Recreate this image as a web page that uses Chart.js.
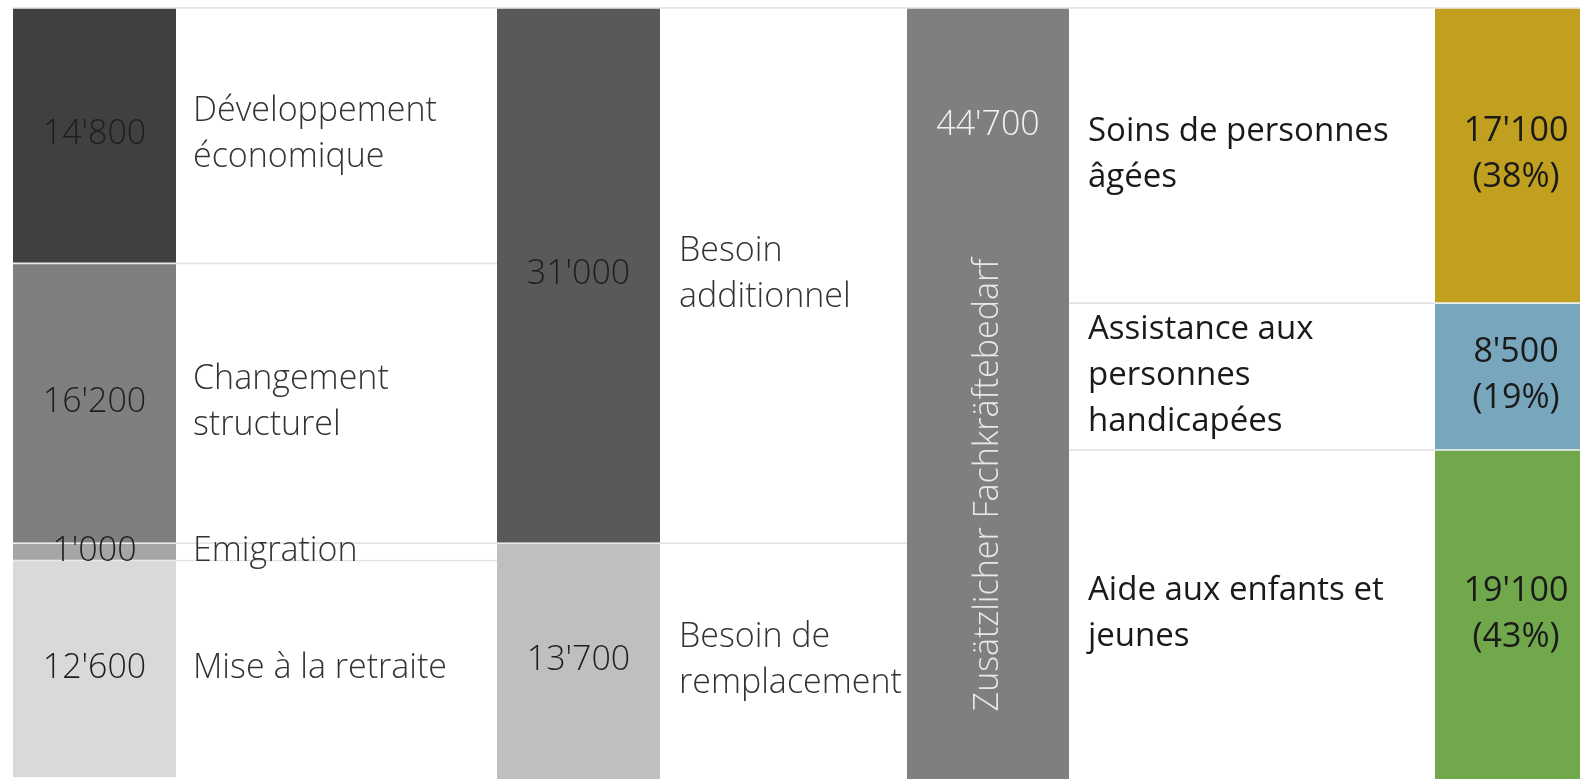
<!DOCTYPE html>
<html>
<head>
<meta charset="utf-8">
<script src="https://cdn.jsdelivr.net/npm/chart.js@4.4.1/dist/chart.umd.min.js"></script>
<style>
  html, body { margin: 0; padding: 0; background: #ffffff; overflow: hidden; }
  #wrap { width: 1600px; height: 779px; }
  canvas { display: block; }
</style>
</head>
<body>
<div id="wrap"><canvas id="c" width="1600" height="779"></canvas></div>
<script>
// ---------- DATA ----------
const slot = [''];
const causeLabels = [['Développement', 'économique'], ['Changement', 'structurel'], ['Emigration'], ['Mise à la retraite']];
const causeValues = [14800, 16200, 1000, 12600];
const needLabels = [['Besoin', 'additionnel'], ['Besoin de', 'remplacement']];
const needValues = [31000, 13700];
const totalLabel = 'Zusätzlicher Fachkräftebedarf';
const totalValues = [44700];
const domainLabels = [['Soins de personnes', 'âgées'], ['Assistance aux', 'personnes', 'handicapées'], ['Aide aux enfants et', 'jeunes']];
const domainValues = [17100, 8500, 19100];
const domainShares = ['38%', '19%', '43%'];

// ---------- STYLES ----------
const causeColors = ['#404040', '#7f7f7f', '#a6a6a6', '#d9d9d9'];
const needColors = ['#595959', '#bfbfbf'];
const totalColor = '#7f7f7f';
const domainColors = ['#c19f1f', '#78a6bd', '#71a84c'];
const columnWidths = [163, 321, 163, 247, 162, 366, 162]; // relative weights of the 7 columns
const LIGHT = '300 34px "Open Sans", "Noto Sans", sans-serif';
const NUM = '300 34px "Open Sans", "Noto Sans", sans-serif';
const REG = '400 33px "Open Sans", "Noto Sans", sans-serif';
const REGNUM = '400 34px "Open Sans", "Noto Sans", sans-serif';
const VERT = '300 34px "Open Sans", "Noto Sans", sans-serif';
const LH = 46;

const fmt = v => String(v).replace(/\B(?=(\d{3})+(?!\d))/g, "'");

const datasets = [];
function addSeg(axis, value, bg, border, texts) {
  datasets.push({
    data: [value], xAxisID: axis, yAxisID: 'y',
    backgroundColor: bg, borderColor: border,
    borderWidth: { top: 2, right: 0, bottom: 0, left: 0 },
    borderSkipped: false, barPercentage: 1, categoryPercentage: 1, grouped: false,
    texts: texts
  });
}

causeValues.forEach((v, i) => {
  addSeg('c0', v, causeColors[i], '#e9e9e9', [{ lines: [fmt(v)], font: NUM, color: '#1e1e1e' }]);
  addSeg('c1', v, '#ffffff', '#e3e3e3', [{ lines: causeLabels[i], font: LIGHT, color: '#333333', align: 'left', pad: 17 }]);
});
needValues.forEach((v, i) => {
  addSeg('c2', v, needColors[i], '#e9e9e9', [{ lines: [fmt(v)], font: NUM, color: '#1e1e1e' }]);
  addSeg('c3', v, '#ffffff', '#e3e3e3', [{ lines: needLabels[i], font: LIGHT, color: '#333333', align: 'left', pad: 19 }]);
});
totalValues.forEach(v => {
  addSeg('c4', v, totalColor, '#e9e9e9', [
    { lines: [fmt(v)], font: NUM, color: '#f2f2f2', fromTop: 118 },
    { lines: [totalLabel], font: VERT, color: '#e8e8e8', fromTop: 478, rotate: true }
  ]);
});
domainValues.forEach((v, i) => {
  addSeg('c5', v, '#ffffff', '#e3e3e3', [{ lines: domainLabels[i], font: REG, color: '#1a1a1a', align: 'left', pad: 19 }]);
  addSeg('c6', v, domainColors[i], '#ececec', [{ lines: [fmt(v), '(' + domainShares[i] + ')'], font: REGNUM, color: '#1a1a1a' }]);
});

const scales = {
  y: { type: 'linear', axis: 'y', reverse: true, min: 0, max: 44700, stacked: true, display: false }
};
columnWidths.forEach((w, i) => {
  scales['c' + i] = {
    type: 'category', axis: 'x', position: 'bottom', stack: 'cols', stackWeight: w, weight: i,
    offset: true, stacked: true, display: false
  };
});

const cellText = {
  id: 'cellText',
  afterDatasetsDraw(chart) {
    const ctx = chart.ctx;
    chart.data.datasets.forEach((ds, i) => {
      const el = chart.getDatasetMeta(i).data[0];
      if (!el || !ds.texts) return;
      const p = el.getProps(['x', 'y', 'base', 'width'], true);
      const top = Math.min(p.y, p.base), bottom = Math.max(p.y, p.base);
      ds.texts.forEach(t => {
        ctx.save();
        ctx.font = t.font;
        ctx.fillStyle = t.color;
        ctx.textBaseline = 'middle';
        let cx = p.x, cy = (top + bottom) / 2;
        ctx.textAlign = 'center';
        if (t.align === 'left') { ctx.textAlign = 'left'; cx = p.x - p.width / 2 + t.pad; }
        if (t.fromTop !== undefined) cy = top + t.fromTop;
        if (t.rotate) { ctx.translate(cx, cy); ctx.rotate(-Math.PI / 2); cx = 0; cy = 0; }
        const n = t.lines.length;
        t.lines.forEach((ln, k) => ctx.fillText(ln, cx, cy + (k - (n - 1) / 2) * LH));
        ctx.restore();
      });
    });
  }
};

new Chart(document.getElementById('c'), {
  type: 'bar',
  data: { labels: slot, datasets: datasets },
  options: {
    responsive: false,
    animation: false,
    layout: { padding: { left: 13, right: 3, top: 7, bottom: 0 } },
    plugins: { legend: { display: false }, tooltip: { enabled: false }, title: { display: false } },
    scales: scales
  },
  plugins: [cellText]
});
</script>
</body>
</html>
